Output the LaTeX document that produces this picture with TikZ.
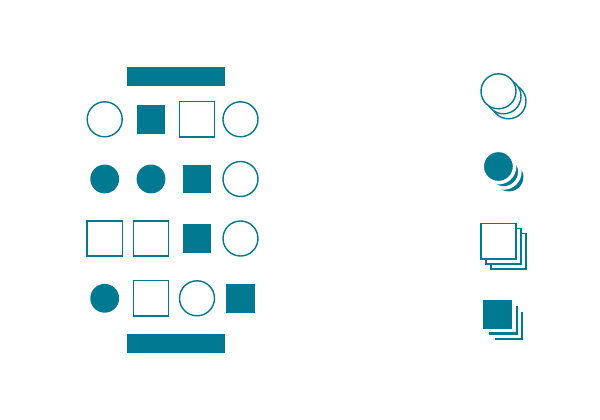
\documentclass[tikz,border=0pt]{standalone}
\usepackage{tikz}
\definecolor{tealblue}{HTML}{007991}

\begin{document}
\begin{tikzpicture}[x=0.025cm, y=-0.025cm]
    \tikzstyle{open circle}=[
        draw = tealblue,
        line width = 1pt,
        fill = white,
        inner sep = 0pt,
        minimum size = 8.75mm,
        circle
    ]
    \tikzstyle{open square}=[
        draw = tealblue,
        line width = 1pt,
        fill = white,
        inner sep = 0pt,
        minimum size = 8.75mm,
        rectangle
    ]
    \tikzstyle{full circle}=[
        fill = tealblue,
        inner sep = 0pt,
        minimum size = 7.2mm,
        circle
    ]
    \tikzstyle{full square}=[
        fill = tealblue,
        inner sep = 0pt,
        minimum size = 7.2mm,
        rectangle
    ]
    \tikzstyle{white edge}=[
        draw = white,
        line width = 2.5pt,
        minimum size = 8.08mm
    ]
    \tikzstyle{bar}=[
        fill = tealblue,
        inner sep = 0pt,
        minimum width = 24.5mm,
        minimum height = 4.7mm,
        rectangle
    ]

    \useasboundingbox (0, 0) rectangle (600, 420);

    \node[bar]         (bartop) at (176, 76.5)  {};
    \node[bar]         (barbot) at (176, 343.5) {};

    % first row
    \node[open circle] (a1) at (104.7, 119.3) {};
    \node[full square] (a2) at (151, 119.3)   {};
    \node[open square] (a3) at (197, 119.3)   {};
    \node[open circle] (a4) at (240.5, 119.3) {};

    % second row
    \node[full circle] (b1) at (104.7, 179)   {};
    \node[full circle] (b2) at (151, 179)     {};
    \node[full square] (b3) at (197, 179)     {};
    \node[open circle] (b4) at (240.5, 179)   {};

    % third row
    \node[open square] (c1) at (104.7, 238.5) {};
    \node[open square] (c2) at (151, 238.5)   {};
    \node[full square] (c3) at (197, 238.5)   {};
    \node[open circle] (c4) at (240.5, 238.5) {};

    % fourth row
    \node[full circle] (d1) at (104.7, 298.3) {};
    \node[open square] (d2) at (151, 298.3)   {};
    \node[open circle] (d3) at (197, 298.3)   {};
    \node[full square] (d4) at (240.5, 298.3) {};

    % stacks on the right, back to front
    \node[open circle] (e3) at (508.5, 101.3) {};
    \node[open circle] (e2) at (503.5, 96.3)  {};
    \node[open circle] (e1) at (498.5, 91.3)  {};

    \node[full circle]             (f3) at (509, 177)   {};
    \node[full circle, white edge] (f2) at (503.7, 171.8) {};
    \node[full circle, white edge] (f1) at (498.4, 166.5) {};

    \node[open square] (g3) at (508.5, 251.3) {};
    \node[open square] (g2) at (503.5, 246.3) {};
    \node[open square] (g1) at (498.5, 241.3) {};

    \node[full square]             (h3) at (509, 326)   {};
    \node[full square, white edge] (h2) at (503.4, 320.2) {};
    \node[full square, white edge] (h1) at (497.7, 314.5) {};

\end{tikzpicture}
\end{document}
